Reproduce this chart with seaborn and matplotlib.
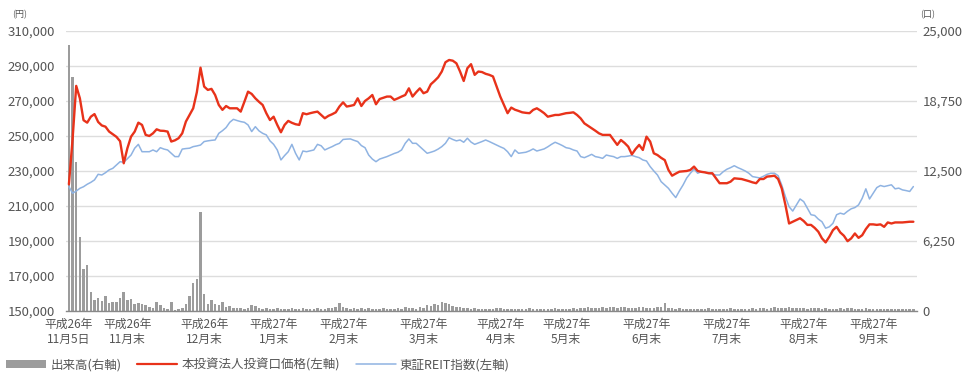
import numpy as np
import pandas as pd
import matplotlib
matplotlib.use("Agg")
import matplotlib.pyplot as plt
from matplotlib.lines import Line2D
from matplotlib.patches import Patch
from matplotlib.ticker import FuncFormatter, MultipleLocator
import seaborn as sns

# ==========================================
# DATA (trading day index from H26/11/5)
# ==========================================

price = [
    222400, 248000, 278600, 271500, 259000, 257600, 261000, 262500, 258000, 256000,
    255300, 252500, 251000, 249500, 247000, 234400, 243000, 249600, 252500, 257600,
    256300, 250600, 250000, 251500, 253800, 253000, 252900, 252500, 246800, 247500,
    248700, 251500, 258200, 262000, 265800, 275000, 289000, 278200, 276300, 276900,
    273400, 267700, 264900, 267100, 265800, 265800, 265800, 263900, 269500, 275300,
    274000, 271500, 269500, 267700, 263000, 259100, 261000, 256300, 252100, 256300,
    258600, 257500, 256700, 256300, 263000, 262400, 263000, 263500, 263900, 262000,
    260100, 261500, 262400, 263500, 266800, 269200, 266800, 267200, 267700, 271500,
    267100, 270000, 271500, 273400, 268100, 271100, 271800, 272500, 272500, 270600,
    271500, 272500, 273400, 277200, 272500, 275000, 277200, 274400, 275300, 279500,
    281400, 283500, 286800, 292100, 293400, 293000, 291500, 286800, 281400, 288700,
    291000, 284900, 286800, 286500, 285500, 284900, 284000, 278200, 272500, 267700,
    263000, 266200, 265000, 264300, 263500, 263200, 263000, 264900, 265800, 264500,
    263000, 261000, 261500, 262000, 262000, 262500, 263000, 263200, 263500, 262000,
    260000, 257200, 255800, 254400, 253000, 251500, 250600, 250600, 250600, 247700,
    244900, 247700, 246000, 243900, 239500, 242500, 244900, 242000, 249600, 246800,
    240100, 239100, 237500, 236200, 230600, 227300, 228500, 229600, 229800, 230000,
    230600, 232500, 230000, 229500, 229200, 228700, 228700, 225800, 223000, 223000,
    223000, 223900, 225800, 225600, 225400, 224800, 224200, 223500, 223000, 225400,
    225400, 226800, 227000, 227300, 225400, 220000, 210600, 200000, 201000, 202000,
    203000, 201400, 199200, 199200, 197500, 195300, 191500, 189200, 192400, 196200,
    198100, 194900, 193000, 189900, 191500, 194300, 191800, 193300, 196800, 199500,
    199500, 199200, 199500, 198100, 200600, 200000, 200600, 200600, 200600, 200800,
    201000, 201000,
]

reit = [
    221100, 217300, 218500, 220100, 221000, 222400, 223500, 224900, 228100, 227700,
    229000, 230600, 231500, 233400, 235300, 235000, 237000, 239100, 243000, 245200,
    241000, 241000, 241000, 242000, 241000, 243300, 242500, 242000, 240100, 238200,
    238200, 242500, 242800, 243000, 243900, 244300, 244800, 246800, 247200, 247500,
    247700, 251500, 253000, 254800, 257800, 259500, 258800, 258200, 257800, 256300,
    252500, 255300, 252900, 251500, 250600, 247200, 245200, 242000, 236300, 238800,
    241000, 245200, 240100, 236300, 241400, 241000, 241500, 242000, 245200, 244400,
    242000, 243000, 243900, 245000, 245800, 248000, 248200, 248300, 247500, 246800,
    244500, 243300, 239100, 236800, 235300, 236800, 237500, 238200, 239100, 240000,
    240700, 242000, 245800, 248300, 245800, 245800, 243900, 242000, 240100, 240700,
    241400, 242500, 243900, 245800, 249000, 248000, 247200, 247700, 246400, 248700,
    246500, 245200, 246000, 246800, 247700, 246800, 245800, 244800, 243800, 242900,
    241000, 238200, 242000, 240100, 240400, 240700, 241500, 242600, 241400, 242000,
    242600, 243800, 245200, 246400, 245500, 244500, 243300, 242900, 242000, 241400,
    238200, 237600, 238500, 239500, 238200, 237800, 237200, 239100, 238600, 238200,
    237200, 238200, 238200, 238500, 238900, 238200, 237600, 236300, 235700, 232500,
    230000, 227700, 223900, 222000, 220100, 217300, 214800, 218600, 222000, 226000,
    228700, 231100, 228700, 229600, 229200, 228700, 228200, 227700, 227700, 229600,
    231000, 231900, 233000, 231900, 231000, 230000, 228700, 226800, 226400, 226000,
    227000, 228100, 228700, 228700, 227300, 221900, 215300, 209600, 207100, 210600,
    214000, 212500, 208800, 205000, 204600, 202500, 201000, 197300, 198100, 200100,
    205000, 205900, 205300, 207000, 208400, 209100, 210600, 214400, 219800, 214000,
    217300, 220500, 221700, 221100, 221600, 222100, 219800, 220200, 219200, 218800,
    218300, 221100,
]

volume = [
    23700, 20900, 13300, 6600, 3750, 4100, 1700, 1000, 1150, 900,
    1300, 700, 800, 800, 1200, 1700, 1000, 1100, 600, 700,
    600, 550, 400, 300, 800, 500, 300, 200, 800, 100,
    200, 250, 600, 1300, 2500, 2900, 8800, 1500, 650, 950,
    600, 500, 850, 350, 450, 300, 250, 300, 200, 250,
    500, 450, 300, 200, 250, 150, 200, 300, 200, 150,
    200, 250, 150, 200, 300, 200, 150, 200, 250, 200,
    150, 300, 250, 350, 700, 400, 250, 200, 300, 200,
    250, 200, 300, 200, 150, 200, 250, 200, 150, 200,
    250, 200, 350, 250, 300, 200, 400, 300, 500, 450,
    600, 550, 800, 700, 600, 450, 400, 350, 300, 250,
    200, 250, 200, 150, 200, 150, 200, 250, 300, 200,
    150, 200, 150, 200, 150, 200, 250, 150, 200, 150,
    200, 150, 200, 250, 200, 150, 200, 150, 250, 200,
    300, 250, 350, 300, 250, 300, 350, 300, 400, 350,
    300, 400, 350, 300, 250, 300, 400, 350, 300, 250,
    300, 350, 400, 700, 300, 250, 200, 250, 200, 150,
    200, 150, 200, 150, 200, 250, 200, 150, 200, 150,
    200, 250, 200, 150, 200, 150, 200, 250, 200, 300,
    250, 200, 300, 350, 300, 250, 300, 350, 300, 250,
    300, 250, 200, 250, 300, 250, 200, 250, 200, 150,
    200, 250, 200, 300, 250, 200, 150, 200, 250, 200,
    150, 200, 150, 200, 150, 200, 150, 200, 150, 150,
    150, 150,
]

tick_days = [0, 16, 37, 56, 75, 97, 118, 136, 158, 180, 201, 220]
tick_labels = [
    "平成26年\n11月5日", "平成26年\n11月末", "平成26年\n12月末", "平成27年\n1月末",
    "平成27年\n2月末", "平成27年\n3月末", "平成27年\n4月末", "平成27年\n5月末",
    "平成27年\n6月末", "平成27年\n7月末", "平成27年\n8月末", "平成27年\n9月末",
]
legend_labels = ["出来高(右軸)", "本投資法人投資口価格(左軸)", "東証REIT指数(左軸)"]

df = pd.DataFrame({
    "day": np.arange(len(price)),
    "price": price,
    "reit": reit,
    "volume": volume,
})

# ==========================================
# STYLE
# ==========================================

sns.set_style("white")
plt.rcParams["font.family"] = ["Noto Sans CJK JP", "DejaVu Sans"]

RED = "#e8321a"
BLUE = "#8fb3e2"
GRAY = "#9c9c9c"
TXT = "#555555"

fig = plt.figure(figsize=(9.66, 3.77), dpi=100)
ax = fig.add_axes([0.0683, 0.175, 0.8810, 0.743])
ax2 = ax.twinx()

# bars on right axis, drawn behind the lines
ax.set_zorder(ax2.get_zorder() + 1)
ax.patch.set_visible(False)

sns.barplot(data=df, x="day", y="volume", native_scale=True, ax=ax2,
            color=GRAY, saturation=1, width=0.7, errorbar=None, linewidth=0)

sns.lineplot(data=df, x="day", y="reit", ax=ax, color=BLUE, linewidth=1.1)
sns.lineplot(data=df, x="day", y="price", ax=ax, color=RED, linewidth=1.7)

# ==========================================
# AXES
# ==========================================

ax.set_xlim(-0.8, 232)
ax.set_ylim(150000, 310000)
ax2.set_ylim(0, 25000)

ax.set_yticks(np.arange(150000, 310001, 20000))
ax.yaxis.set_major_formatter(FuncFormatter(lambda v, p: f"{int(v):,}"))
ax2.yaxis.set_major_locator(MultipleLocator(6250))
ax2.yaxis.set_minor_locator(MultipleLocator(3125))
ax2.yaxis.set_major_formatter(FuncFormatter(lambda v, p: f"{int(v):,}"))

ax2.grid(True, which="both", axis="y", color="#dddddd", linewidth=1)
ax2.set_axisbelow(True)
ax.grid(False)

ax.set_xticks(tick_days)
ax.set_xticklabels(tick_labels, fontsize=8.5, color=TXT, linespacing=1.15)
ax.tick_params(axis="x", length=3, width=0.8, color="#777777", pad=2)
ax.tick_params(axis="y", length=0, labelsize=9.5, labelcolor=TXT, pad=8)
ax2.tick_params(axis="y", which="both", length=0, labelsize=9.5, labelcolor=TXT, pad=4)
ax2.tick_params(axis="x", length=0)

for a in (ax, ax2):
    for s in a.spines.values():
        s.set_visible(False)
ax.spines["bottom"].set_visible(True)
ax.spines["bottom"].set_color("#888888")
ax.spines["bottom"].set_linewidth(1)

ax.set_xlabel("")
ax.set_ylabel("")
ax2.set_xlabel("")
ax2.set_ylabel("")

fig.text(0.013, 0.962, "(円)", fontsize=6.5, color=TXT, ha="left", va="center")
fig.text(0.953, 0.962, "(口)", fontsize=6.5, color=TXT, ha="left", va="center")

# ==========================================
# LEGEND
# ==========================================

handles = [
    Patch(facecolor=GRAY, edgecolor="none"),
    Line2D([0], [0], color=RED, linewidth=1.6),
    Line2D([0], [0], color=BLUE, linewidth=1.1),
]
fig.legend(handles, legend_labels, loc="lower left", bbox_to_anchor=(-0.005, -0.015),
           ncol=3, frameon=False, fontsize=9, labelcolor=TXT,
           handlelength=3.2, handleheight=0.6, handletextpad=0.3, columnspacing=1.3)

fig.savefig("out.png", dpi=100)
